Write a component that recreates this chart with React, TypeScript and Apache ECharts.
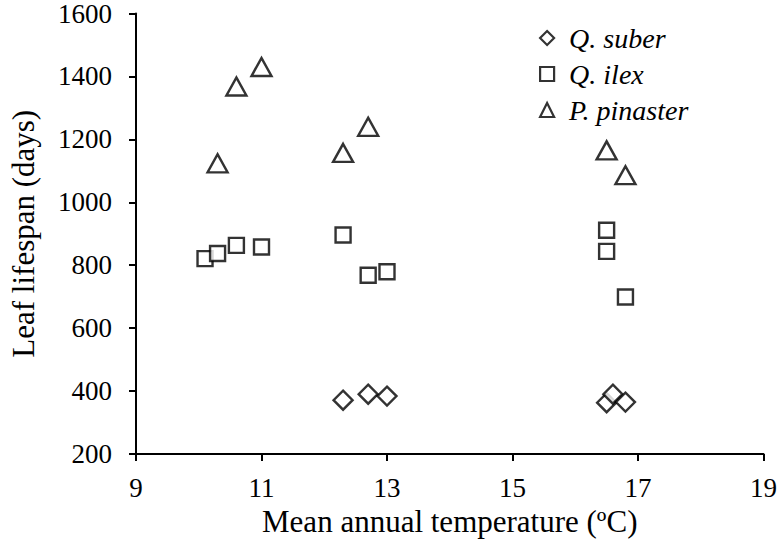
import React, { useEffect, useRef } from "react";
import * as echarts from "echarts";

const seriesNames = ["Q. suber", "Q. ilex", "P. pinaster"];
const seriesSymbols = ["diamond", "rect", "triangle"];

const suberData: [number, number][] = [
  [12.3, 371], [12.7, 390], [13.0, 384], [16.5, 363], [16.6, 390], [16.8, 365],
];
const ilexData: [number, number][] = [
  [10.1, 821], [10.3, 837], [10.6, 863], [11.0, 858], [12.3, 896],
  [12.7, 768], [13.0, 779], [16.5, 911], [16.5, 844], [16.8, 699],
];
const pinasterData: [number, number][] = [
  [10.3, 1124], [10.6, 1368], [11.0, 1430], [12.3, 1157], [12.7, 1240],
  [16.5, 1165], [16.8, 1086],
];

const xTicks = [9, 11, 13, 15, 17, 19];
const xTitle = "Mean annual temperature (ºC)";
const yTitle = "Leaf lifespan (days)";

const FONT = "Liberation Serif, Times New Roman, serif";

export default function App() {
  const ref = useRef<HTMLDivElement>(null);
  useEffect(() => {
    if (!ref.current) return;
    const chart = echarts.init(ref.current, undefined, { renderer: "svg" });
    const allData = [suberData, ilexData, pinasterData];
    const sizes: any[] = [19, 15, [20, 18]];
    chart.setOption({
      animation: false,
      backgroundColor: "#ffffff",
      textStyle: { fontFamily: FONT },
      grid: { left: 130, right: 16, top: 13, bottom: 95, containLabel: false },
      legend: {
        orient: "vertical",
        left: 534,
        top: 19,
        itemWidth: 14,
        itemHeight: 14,
        itemGap: 8,
        data: seriesNames.map((n, i) => ({
          name: n,
          icon: seriesSymbols[i],
          itemStyle: { color: "#ffffff", borderColor: "#000000", borderWidth: 2.2 },
        })),
        textStyle: {
          fontFamily: FONT,
          fontStyle: "italic",
          fontSize: 28,
          color: "#000",
          padding: [0, 0, 0, 10],
        },
      },
      xAxis: {
        type: "value",
        min: 9,
        max: 19,
        splitLine: { show: false },
        axisLine: { show: true, onZero: false, lineStyle: { color: "#000", width: 2 } },
        axisTick: { show: true, length: 7, lineStyle: { color: "#000", width: 2 }, customValues: xTicks },
        axisLabel: {
          customValues: xTicks,
          fontFamily: FONT,
          fontSize: 27,
          color: "#000",
          margin: 20,
          formatter: (v: number) => String(v),
        },
        name: xTitle,
        nameLocation: "middle",
        nameGap: 40,
        nameTextStyle: { fontFamily: FONT, fontSize: 31, color: "#000" },
      },
      yAxis: {
        type: "value",
        min: 200,
        max: 1600,
        interval: 200,
        splitLine: { show: false },
        axisLine: { show: true, onZero: false, lineStyle: { color: "#000", width: 2 } },
        axisTick: { show: true, length: 7, lineStyle: { color: "#000", width: 2 } },
        axisLabel: {
          fontFamily: FONT,
          fontSize: 27,
          color: "#000",
          margin: 24,
          formatter: (v: number) => String(v),
        },
        name: yTitle,
        nameLocation: "middle",
        nameGap: 97,
        nameTextStyle: { fontFamily: FONT, fontSize: 31, color: "#000" },
      },
      series: seriesNames.map((n, i) => ({
        name: n,
        type: "scatter",
        symbol: seriesSymbols[i],
        symbolSize: sizes[i],
        data: allData[i],
        itemStyle: { color: "#ffffff", borderColor: "#000000", borderWidth: 2.4 },
        emphasis: { disabled: true },
      })),
    });
    return () => chart.dispose();
  }, []);
  return <div ref={ref} style={{ width: 780, height: 549, position: "absolute", left: 0, top: 0 }} />;
}
